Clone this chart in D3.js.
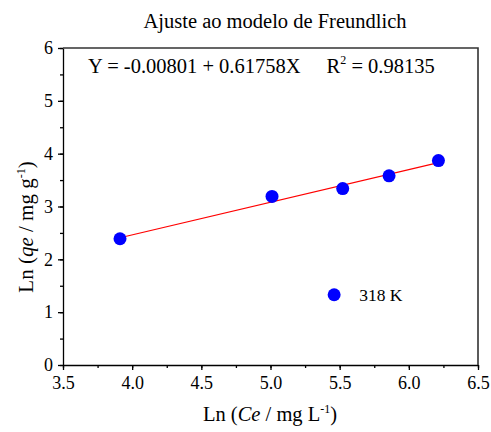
<!DOCTYPE html>
<html>
<head>
<meta charset="utf-8">
<style>
  body { margin: 0; background: #fff; }
  text { font-family: "Liberation Serif", "Times New Roman", serif; fill: #000; }
  .axis path, .axis line { stroke: #000; stroke-width: 1.3px; }
  .axis text { font-size: 18px; }
  .frame { fill: none; stroke: #333; stroke-width: 1.6px; }
  .fit { fill: none; stroke: #ff0000; stroke-width: 1.2px; }
  .dot { fill: #0000ff; }
</style>
</head>
<body>
<svg id="chart"></svg>
<script src="https://cdn.jsdelivr.net/npm/d3@7"></script>
<script>
  // data
  var lnCe = [3.912, 5.011, 5.522, 5.857, 6.214];
  var lnQe = [2.39, 3.19, 3.34, 3.58, 3.87];
  var xTicks = [3.5, 4.0, 4.5, 5.0, 5.5, 6.0, 6.5];
  var yTicks = [0, 1, 2, 3, 4, 5, 6];
  var intercept = -0.00801;
  var slope = 0.61758;
  var seriesName = '318 K';

  var width = 491, height = 432;
  var plotLeft = 63, plotRight = 478, plotTop = 48, plotBottom = 365;

  var svg = d3.select('#chart').attr('width', width).attr('height', height);

  var x = d3.scaleLinear().domain([3.5, 6.5]).range([plotLeft, plotRight]);
  var y = d3.scaleLinear().domain([0, 6]).range([plotBottom, plotTop]);

  // minor ticks
  var xMinor = d3.range(3.5, 6.5001, 0.25);
  var yMinor = d3.range(0, 6.0001, 0.5);

  svg.append('g').attr('class', 'axis')
    .attr('transform', 'translate(0,' + plotBottom + ')')
    .call(d3.axisBottom(x).tickValues(xMinor).tickSize(3).tickFormat(''))
    .select('.domain').remove();
  svg.append('g').attr('class', 'axis')
    .attr('transform', 'translate(' + plotLeft + ',0)')
    .call(d3.axisLeft(y).tickValues(yMinor).tickSize(3).tickFormat(''))
    .select('.domain').remove();

  svg.append('g').attr('class', 'axis')
    .attr('transform', 'translate(0,' + plotBottom + ')')
    .call(d3.axisBottom(x).tickValues(xTicks).tickSize(5).tickSizeOuter(0)
      .tickPadding(6).tickFormat(d3.format('.1f')));
  svg.append('g').attr('class', 'axis')
    .attr('transform', 'translate(' + plotLeft + ',0)')
    .call(d3.axisLeft(y).tickValues(yTicks).tickSize(5).tickSizeOuter(0)
      .tickPadding(5).tickFormat(d3.format('d')));

  // top and right borders
  svg.append('path').attr('class', 'frame')
    .attr('d', 'M' + plotLeft + ',' + plotTop + 'H' + plotRight + 'V' + plotBottom);

  // fitted line
  var xs = d3.extent(lnCe);
  var fitLine = d3.line()
    .x(function(d){ return x(d); })
    .y(function(d){ return y(intercept + slope * d); });
  svg.append('path').datum(xs).attr('class', 'fit').attr('d', fitLine);

  svg.selectAll('.pt').data(lnCe).enter().append('circle')
    .attr('class', 'dot pt')
    .attr('cx', function(d){ return x(d); })
    .attr('cy', function(d, i){ return y(lnQe[i]); })
    .attr('r', 6.5);

  // legend
  svg.append('circle').attr('class', 'dot')
    .attr('cx', x(5.46)).attr('cy', y(1.33)).attr('r', 6.5);
  svg.append('text').attr('x', x(5.46) + 25).attr('y', y(1.33) + 6)
    .style('font-size', '17.5px').text(seriesName);

  // title
  svg.append('text').attr('x', 275).attr('y', 28).attr('text-anchor', 'middle')
    .style('font-size', '20.5px').text('Ajuste ao modelo de Freundlich');

  // equation
  var eq = svg.append('text').attr('x', 88).attr('y', 73).style('font-size', '20.5px');
  eq.append('tspan').text('Y = ' + intercept.toFixed(5) + ' + ' + slope.toFixed(5) + 'X');
  eq.append('tspan').attr('dx', 26).text('R');
  eq.append('tspan').attr('dy', -9).style('font-size', '12px').text('2');
  eq.append('tspan').attr('dy', 9).text(' = 0.98135');

  // x label
  var xl = svg.append('text').attr('x', 270).attr('y', 421).attr('text-anchor', 'middle')
    .style('font-size', '20.5px');
  xl.append('tspan').text('Ln (');
  xl.append('tspan').style('font-style', 'italic').text('Ce');
  xl.append('tspan').text(' / mg L');
  xl.append('tspan').attr('dy', -8).style('font-size', '12px').text('-1');
  xl.append('tspan').attr('dy', 8).text(')');

  // y label
  var yl = svg.append('text').attr('transform', 'translate(33,227) rotate(-90)')
    .attr('text-anchor', 'middle').style('font-size', '21px');
  yl.append('tspan').text('Ln (');
  yl.append('tspan').style('font-style', 'italic').text('qe');
  yl.append('tspan').text(' / mg g');
  yl.append('tspan').attr('dy', -8).style('font-size', '12px').text('-1');
  yl.append('tspan').attr('dy', 8).text(')');
</script>
</body>
</html>
